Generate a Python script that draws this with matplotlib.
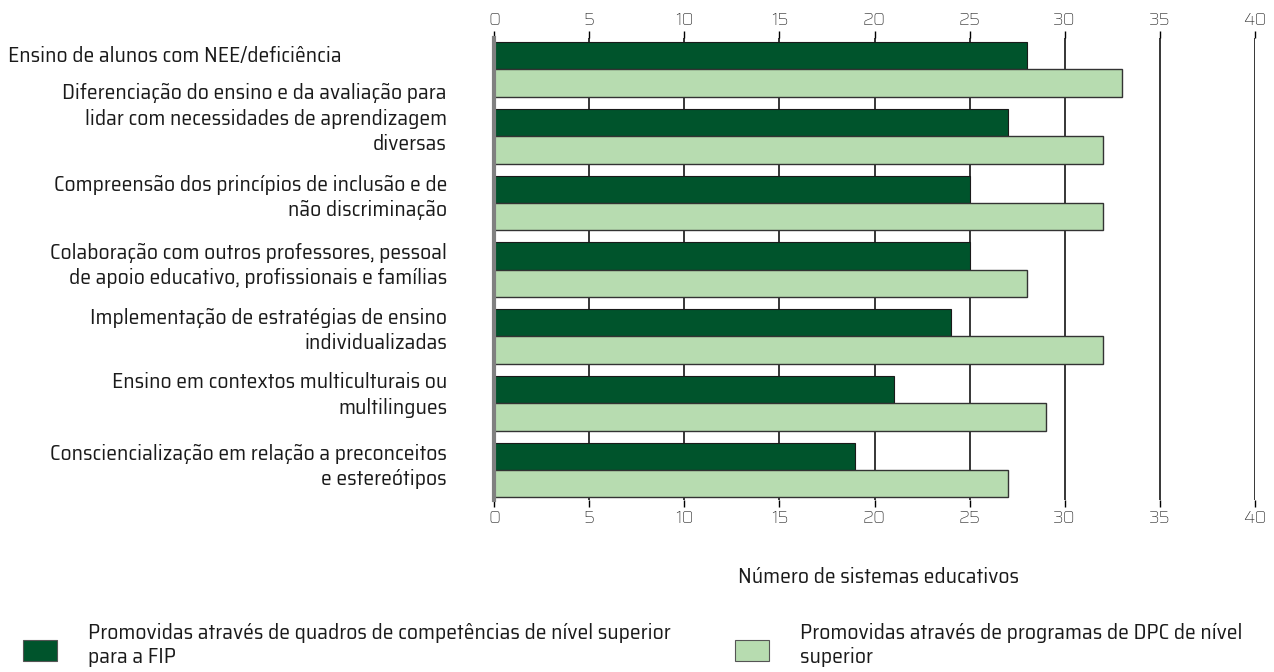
import matplotlib.pyplot as plt
from matplotlib.patches import Rectangle
import numpy as np

categories = [
    "Ensino de alunos com NEE/deficiência",
    "Diferenciação do ensino e da avaliação para\nlidar com necessidades de aprendizagem\ndiversas",
    "Compreensão dos princípios de inclusão e de\nnão discriminação",
    "Colaboração com outros professores, pessoal\nde apoio educativo, profissionais e famílias",
    "Implementação de estratégias de ensino\nindividualizadas",
    "Ensino em contextos multiculturais ou\nmultilingues",
    "Consciencialização em relação a preconceitos\ne estereótipos",
]
fip_values = [28, 27, 25, 25, 24, 21, 19]
dpc_values = [33, 32, 32, 28, 32, 29, 27]
x_ticks = [0, 5, 10, 15, 20, 25, 30, 35, 40]
series_names = [
    "Promovidas através de quadros de competências de nível superior\npara a FIP",
    "Promovidas através de programas de DPC de nível\nsuperior",
]
x_title = "Número de sistemas educativos"

DARK = "#00542c"
LIGHT = "#b7dcb0"
plt.rcParams["font.family"] = ["Saira", "Saira SemiCondensed", "DejaVu Sans"]
LABEL_FONT = ["Saira SemiCondensed", "DejaVu Sans"]
FS = 15.5


def main():
    fig = plt.figure(figsize=(12.74, 6.72), dpi=100)
    W, H = 1274, 672
    ax = fig.add_axes([494 / W, 1 - 500 / H, (1255 - 494) / W, (500 - 38) / H])

    y = np.arange(len(categories))
    h = 0.41
    ax.barh(y - h / 2, fip_values, height=h, color=DARK, edgecolor="#1a1a1a",
            linewidth=0.8, zorder=3)
    ax.barh(y + h / 2, dpc_values, height=h, color=LIGHT, edgecolor="#333333",
            linewidth=1.0, zorder=3)

    ax.set_xlim(0, 40)
    ax.set_ylim(6.45, -0.47)
    ax.set_xticks(x_ticks)
    for t in x_ticks[1:]:
        ax.axvline(t, color="black", linewidth=1.1, zorder=1)
    ax.tick_params(axis="x", top=True, labeltop=True, bottom=True, labelbottom=True,
                   length=5, width=1, color="black", labelsize=13, labelcolor="#222222",
                   pad=2)
    ax.tick_params(axis="y", left=False, labelleft=False)
    for s in ["top", "bottom", "right"]:
        ax.spines[s].set_visible(False)
    ax.spines["left"].set_color("#808080")
    ax.spines["left"].set_linewidth(3)
    ax.spines["left"].set_zorder(4)

    # category labels, right aligned left of the axis
    offsets = [-0.2, -0.26, -0.08, -0.06, -0.09, -0.12, -0.05]
    for i, (lab, off) in enumerate(zip(categories, offsets)):
        yy = ax.transData.transform((0, i + off))[1] / H
        if i == 0:
            fig.text(8 / W, yy, lab, ha="left", va="center", fontsize=FS,
                     family=LABEL_FONT, color="#1a1a1a", linespacing=1.35)
        else:
            fig.text(447 / W, yy, lab, ha="right", va="center", fontsize=FS,
                     family=LABEL_FONT, color="#1a1a1a", linespacing=1.35,
                     multialignment="right")

    fig.text(878 / W, 1 - 577 / H, x_title, ha="center", va="center",
             fontsize=FS, family=LABEL_FONT, color="#1a1a1a")

    # legend
    for (sx, tx), name, col in zip([(23, 88), (735, 800)], series_names, [DARK, LIGHT]):
        fig.patches.append(Rectangle((sx / W, 1 - 661 / H), 34 / W, 21 / H,
                                     transform=fig.transFigure, facecolor=col,
                                     edgecolor="#555555", linewidth=0.8))
        fig.text(tx / W, 1 - 645 / H, name, ha="left", va="center", fontsize=FS,
                 family=LABEL_FONT, color="#1a1a1a", linespacing=1.25)

    fig.savefig("out.png", dpi=100)


if __name__ == "__main__":
    main()
